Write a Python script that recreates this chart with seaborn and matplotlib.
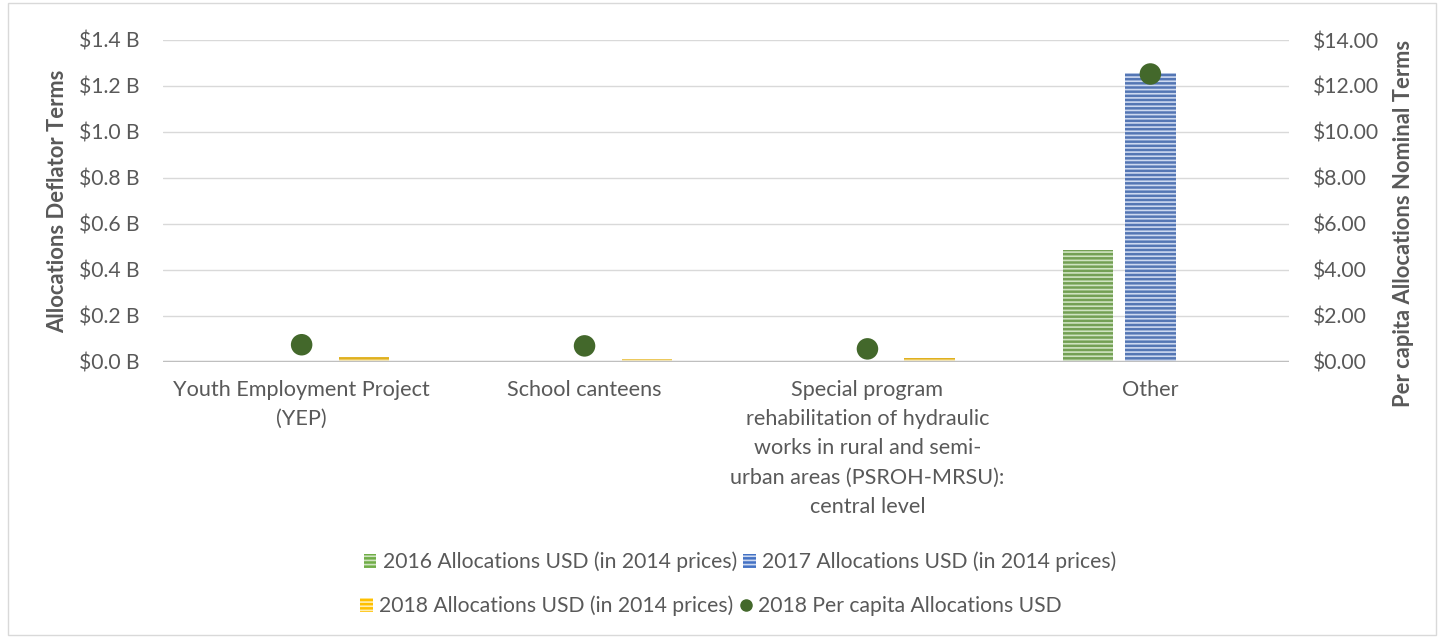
import numpy as np
import pandas as pd
import matplotlib
matplotlib.use('Agg')
import matplotlib.pyplot as plt
from matplotlib.patches import Patch, Rectangle
from matplotlib.lines import Line2D
import seaborn as sns

# data
categories = [
    'Youth Employment Project\n(YEP)',
    'School canteens',
    'Special program\nrehabilitation of hydraulic\nworks in rural and semi-\nurban areas (PSROH-MRSU):\ncentral level',
    'Other',
]
series = [
    '2016 Allocations USD (in 2014 prices)',
    '2017 Allocations USD (in 2014 prices)',
    '2018 Allocations USD (in 2014 prices)',
]
alloc_2016 = [0.0, 0.0, 0.0, 0.484]      # billions USD
alloc_2017 = [0.0, 0.0, 0.004, 1.256]
alloc_2018 = [0.020, 0.013, 0.014, 0.0]
per_capita_2018 = [0.73, 0.68, 0.55, 12.52]  # USD
per_capita_label = '2018 Per capita Allocations USD'

left_ticks = [0.0, 0.2, 0.4, 0.6, 0.8, 1.0, 1.2, 1.4]
right_ticks = [0, 2, 4, 6, 8, 10, 12, 14]

bar_colors = ['#70AD47', '#4472C4', '#FFC000']
hatch_colors = ['#cfe3c1', '#cdd9f0', '#ffeeb3']
dot_color = '#43682B'
text_color = '#595959'

sns.set_style('white')
plt.rcParams['font.family'] = ['Lato', 'DejaVu Sans']
plt.rcParams['hatch.linewidth'] = 1.2

df = pd.DataFrame({
    'category': categories * 3,
    'series': [s for s in series for _ in categories],
    'value': alloc_2016 + alloc_2017 + alloc_2018,
})

fig = plt.figure(figsize=(14.42, 6.38), dpi=100)
ax = fig.add_axes([163 / 1442, 1 - 361.5 / 638, (1289 - 163) / 1442, (361.5 - 40) / 638])

sns.barplot(data=df, x='category', y='value', hue='series', hue_order=series,
            order=categories, palette=bar_colors, width=0.66, gap=0.19,
            ax=ax, legend=False, linewidth=0)

# horizontal stripe pattern on the bars
for container, hc in zip(ax.containers, hatch_colors):
    for bar in container:
        bar.set_hatch('----')
        bar.set_edgecolor(hc)
        bar.set_linewidth(0)

ax.set_ylim(0, 1.4)
ax.set_yticks(left_ticks)
ax.set_yticklabels([f'${t:.1f} B' for t in left_ticks])
ax.yaxis.grid(True, color='#D9D9D9', linewidth=1)
ax.set_axisbelow(True)
ax.axhline(0, color='#BFBFBF', linewidth=2.5, zorder=5)
for s in ax.spines.values():
    s.set_visible(False)
ax.tick_params(axis='y', length=0, labelsize=15.2, colors=text_color, pad=17)
ax.tick_params(axis='x', length=0, labelsize=15.6, colors=text_color, pad=13)
for lab in ax.get_xticklabels():
    lab.set_linespacing(1.58)
ax.set_xlabel('')
ax.set_ylabel('')

ax2 = ax.twinx()
sns.scatterplot(x=np.arange(len(categories)), y=per_capita_2018, ax=ax2,
                color=dot_color, s=240, edgecolor='none', zorder=6)
ax2.set_ylim(0, 14)
ax2.set_yticks(right_ticks)
ax2.set_yticklabels([f'${t:.2f}' for t in right_ticks])
ax2.tick_params(axis='y', length=0, labelsize=15.2, colors=text_color, pad=17)
for s in ax2.spines.values():
    s.set_visible(False)
ax2.set_xlim(ax.get_xlim())

fig.text(58 / 1442, 1 - 201 / 638, 'Allocations Deflator Terms', rotation=90,
         ha='center', va='center', fontsize=15.8, fontweight='bold', color=text_color)
fig.text(1404 / 1442, 1 - 223 / 638, 'Per capita Allocations Nominal Terms', rotation=90,
         ha='center', va='center', fontsize=15.8, fontweight='bold', color=text_color)

handles = [Patch(facecolor=c, edgecolor=hc, hatch='----', linewidth=0)
           for c, hc in zip(bar_colors, hatch_colors)]
dot_handle = Line2D([], [], marker='o', linestyle='none', color=dot_color, markersize=8)

leg_kw = dict(loc='center', ncol=2, frameon=False, fontsize=15.2, handlelength=0.6,
              handleheight=0.6, handletextpad=0.3, columnspacing=0.3, labelcolor=text_color)
fig.legend(handles[:2], series[:2], bbox_to_anchor=(740 / 1442, 1 - 562 / 638), **leg_kw)
fig.legend([handles[2], dot_handle], [series[2], per_capita_label],
           bbox_to_anchor=(711 / 1442, 1 - 606 / 638), **leg_kw)

fig.patches.append(Rectangle((8 / 1442, 3 / 638), 1428 / 1442, 632 / 638, transform=fig.transFigure,
                             fill=False, edgecolor='#D9D9D9', linewidth=1))

fig.savefig('out.png', dpi=100)
